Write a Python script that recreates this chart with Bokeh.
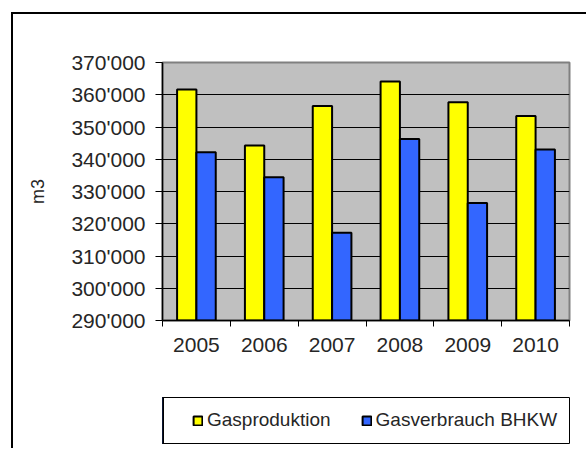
from bokeh.plotting import figure
from bokeh.models import Range1d, FixedTicker, Legend, LegendItem
from bokeh.layouts import column
from bokeh.embed import file_html
from bokeh.resources import INLINE
import numpy as np

years = ["2005", "2006", "2007", "2008", "2009", "2010"]
gasproduktion = [361600, 344300, 356500, 364100, 357700, 353400]
gasverbrauch = [342200, 334400, 317200, 346300, 326400, 343000]
y_ticks = [290000, 300000, 310000, 320000, 330000, 340000, 350000, 360000, 370000]
y_tick_labels = [f"{v:,}".replace(",", "'") for v in y_ticks]
series_names = ["Gasproduktion", "Gasverbrauch BHKW"]
series_colors = ["#FFFF00", "#3366FF"]

FONT = "Liberation Sans"
TXT = "#262626"

# ---------------- main chart ----------------
p = figure(width=573, height=376, output_backend="svg", toolbar_location=None,
           x_range=Range1d(0, len(years)), y_range=Range1d(y_ticks[0], y_ticks[-1]),
           min_border_left=149, min_border_right=17, min_border_top=48, min_border_bottom=70)

p.background_fill_color = "#C0C0C0"
p.border_fill_color = "white"
p.outline_line_color = "#808080"
p.outline_line_width = 2

centers = np.arange(len(years)) + 0.5
bw = 0.285
p.vbar(x=centers - bw / 2, top=gasproduktion, bottom=y_ticks[0], width=bw,
       fill_color=series_colors[0], line_color="black", line_width=2)
p.vbar(x=centers + bw / 2, top=gasverbrauch, bottom=y_ticks[0], width=bw,
       fill_color=series_colors[1], line_color="black", line_width=2)

p.yaxis.ticker = FixedTicker(ticks=y_ticks, minor_ticks=[])
p.yaxis.major_label_overrides = {v: s for v, s in zip(y_ticks, y_tick_labels)}
p.yaxis.major_tick_out = 7
p.yaxis.major_tick_in = 0
p.yaxis.major_tick_line_color = "black"
p.yaxis.axis_line_color = "black"
p.yaxis.axis_line_width = 1.5
p.yaxis.major_label_standoff = 10
p.yaxis.major_label_text_font = FONT
p.yaxis.major_label_text_font_size = "21px"
p.yaxis.major_label_text_color = TXT
p.yaxis.axis_label = "m3"
p.yaxis.axis_label_text_font = FONT
p.yaxis.axis_label_text_font_style = "normal"
p.yaxis.axis_label_text_font_size = "18px"
p.yaxis.axis_label_text_color = TXT
p.yaxis.axis_label_standoff = 20

p.xaxis.ticker = FixedTicker(ticks=list(centers), minor_ticks=list(range(len(years) + 1)))
p.xaxis.major_label_overrides = {float(c): y for c, y in zip(centers, years)}
p.xaxis.major_tick_line_color = None
p.xaxis.minor_tick_out = 6
p.xaxis.minor_tick_in = 0
p.xaxis.minor_tick_line_color = "black"
p.xaxis.axis_line_color = "black"
p.xaxis.axis_line_width = 1.5
p.xaxis.major_label_standoff = 11
p.xaxis.major_label_text_font = FONT
p.xaxis.major_label_text_font_size = "21px"
p.xaxis.major_label_text_color = TXT

p.xgrid.grid_line_color = None
p.ygrid.grid_line_color = "black"
p.ygrid.grid_line_width = 1

# ---------------- legend box ----------------
pl = figure(width=573, height=58, output_backend="svg", toolbar_location=None,
            x_range=Range1d(100, 101), y_range=Range1d(0, 1),
            x_axis_type=None, y_axis_type=None,
            min_border_left=149, min_border_right=1, min_border_top=7, min_border_bottom=5)
pl.background_fill_color = "white"
pl.border_fill_color = "white"
pl.outline_line_color = "black"
pl.outline_line_width = 1
pl.grid.visible = False

# same series, drawn outside this box's visible range: only their legend swatches show
lr1 = pl.vbar(x=centers, top=gasproduktion, width=bw,
              fill_color=series_colors[0], line_color="black", line_width=2)
lr2 = pl.vbar(x=centers, top=gasverbrauch, width=bw,
              fill_color=series_colors[1], line_color="black", line_width=2)

legend = Legend(items=[LegendItem(label=series_names[0], renderers=[lr1]),
                       LegendItem(label=series_names[1], renderers=[lr2])],
                location=(30, 12), orientation="horizontal", padding=0, margin=0,
                spacing=30, glyph_width=11, glyph_height=11, label_standoff=4,
                border_line_alpha=0, background_fill_alpha=0,
                label_text_font=FONT, label_text_font_size="19px", label_text_color=TXT)
pl.add_layout(legend, "center")

layout = column(p, pl, spacing=0, margin=(12, 0, 0, 11),
                styles={"border-top": "2px solid black", "border-left": "2px solid black"})

open("out.html", "w").write(file_html(layout, INLINE))
